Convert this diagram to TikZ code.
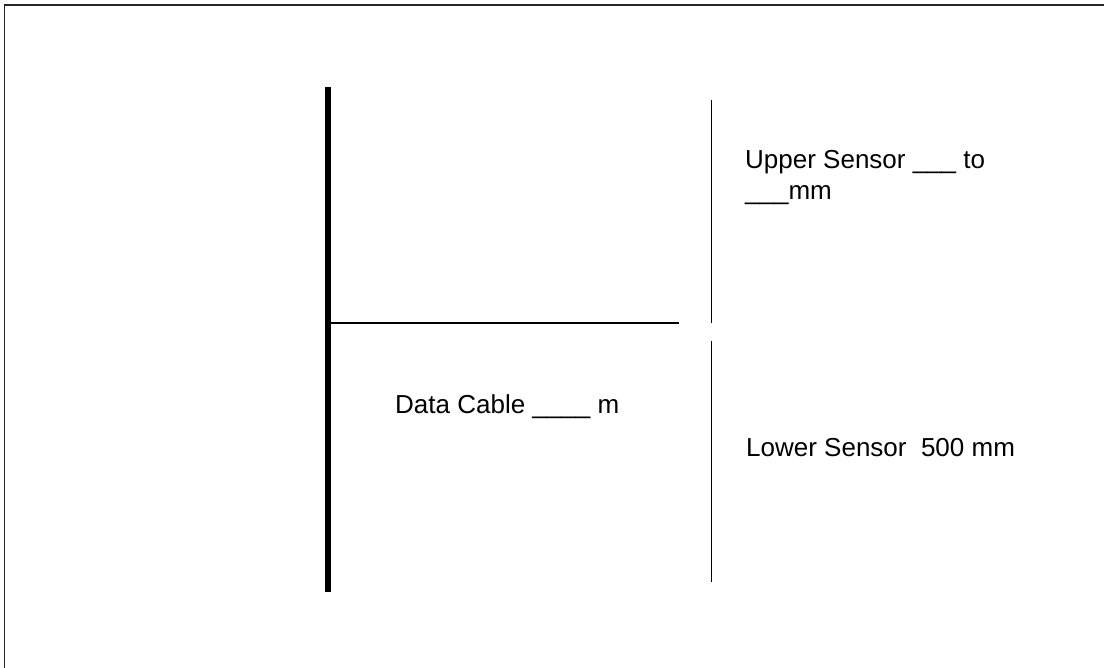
\documentclass[tikz,border=0pt]{standalone}
\usepackage{fontspec}
\setmainfont{Liberation Sans}
\begin{document}
\begin{tikzpicture}[x=1pt,y=-1pt,
  lbl/.style={anchor=base west,inner sep=0pt,font=\fontsize{26}{31}\selectfont,align=left},
  pole/.style={line width=6pt},
  wire/.style={line width=1.5pt},
  frameline/.style={line width=1.3pt,color=black!85}]
\useasboundingbox (0,0) rectangle (1104,668);
\coordinate (ftr) at (1104,5);
\coordinate (ftl) at (4.5,5);
\coordinate (fbl) at (4.5,668);
\draw[frameline] (ftr) -- (ftl) -- (fbl);
\coordinate (poleTop) at (328,87);
\coordinate (poleBot) at (328,592);
\draw[pole] (poleTop) -- (poleBot);
\coordinate (cableL) at (331,323);
\coordinate (cableR) at (679,323);
\draw[wire] (cableL) -- (cableR);
\coordinate (upTop) at (711.5,100);
\coordinate (upBot) at (711.5,323);
\coordinate (loTop) at (711.5,341);
\coordinate (loBot) at (711.5,582);
\draw[wire] (upTop) -- (upBot);
\draw[wire] (loTop) -- (loBot);
\node[lbl] (upper) at (745,200) {Upper Sensor \_\_\_ to\\\_\_\_mm};
\node[lbl] (cable) at (395,413.5) {Data Cable \_\_\_\_ m};
\node[lbl] (lower) at (746,456.5) {Lower Sensor\ \ 500 mm};
\end{tikzpicture}
\end{document}
